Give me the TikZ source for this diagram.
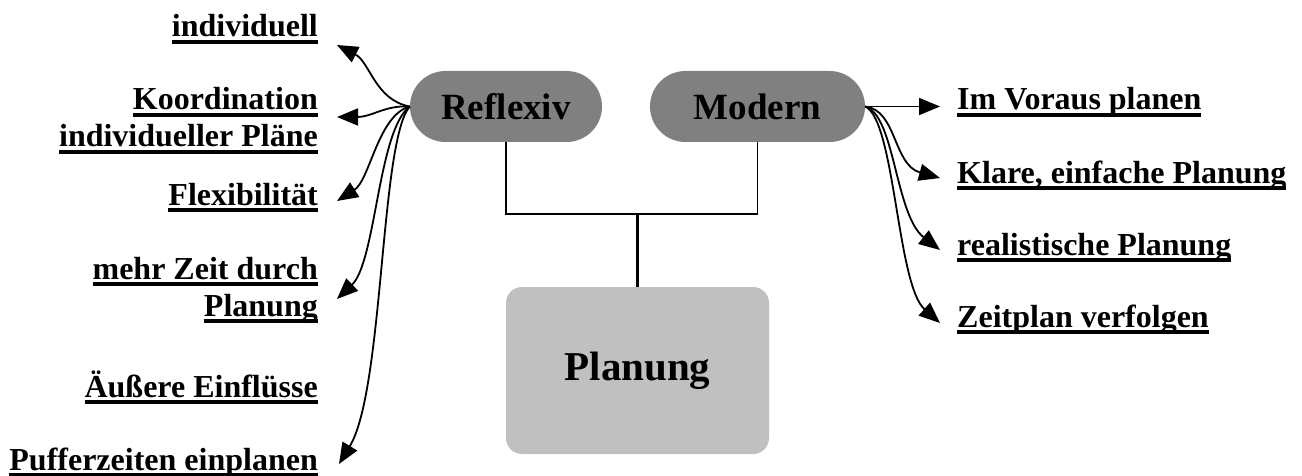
\documentclass[tikz,border=0pt]{standalone}
\usepackage{fontspec}
\setmainfont{Liberation Serif}
\usetikzlibrary{arrows.meta}

% underline drawn as a thick rule just under the baseline
\newsavebox\ulsave
\newcommand\ulbox[1]{\sbox\ulsave{#1}\rlap{\rule[-7pt]{\wd\ulsave}{3.6pt}}\usebox\ulsave}

\definecolor{topicgray}{RGB}{128,128,128}
\definecolor{maingray}{RGB}{192,192,192}

\begin{document}
\begin{tikzpicture}[x=1pt,y=-1pt,
  topic/.style={fill=topicgray, rounded corners=35.5pt, minimum height=71pt,
    inner sep=0pt, font=\fontsize{37}{44}\selectfont\bfseries},
  mainbox/.style={fill=maingray, rounded corners=16pt, minimum width=263pt,
    minimum height=167pt, inner sep=0pt, font=\fontsize{41}{48}\selectfont\bfseries},
  item/.style={inner sep=0pt, font=\fontsize{32}{37}\selectfont\bfseries},
  leftitem/.style={item, anchor=base east, align=right},
  rightitem/.style={item, anchor=base west, align=left},
  tree/.style={line width=1.6pt},
  branch/.style={line width=1.8pt, -{Triangle[length=21pt,width=17pt]}}]

\useasboundingbox (0,0) rectangle (1302,476);

% central boxes
\node[topic, minimum width=192pt] (refl) at (506,106.5) {Reflexiv};
\node[topic, minimum width=215pt] (mod) at (757.5,106.5) {Modern};
\node[mainbox] (plan) at (637.5,370.5) {Planung};

% tree joining the two kinds of planning
\coordinate (jn) at (637.5,214);
\draw[tree] (refl.south) |- (jn) -| (mod.south);
\draw[line width=2.4pt] (jn) -- (plan.north);

% left column (base anchor sits on the last line)
\node[leftitem] (l1) at (318,37) {\ulbox{individuell}};
\node[leftitem] (l2) at (318,147) {\ulbox{Koordination}\\\ulbox{individueller Pläne}};
\node[leftitem] (l3) at (318,205) {\ulbox{Flexibilität}};
\node[leftitem] (l4) at (318,316) {\ulbox{mehr Zeit durch}\\\ulbox{Planung}};
\node[leftitem] (l5) at (318,397) {\ulbox{Äußere Einflüsse}};
\node[leftitem] (l6) at (318,470) {\ulbox{Pufferzeiten einplanen}};

% right column
\node[rightitem] (r1) at (957,110) {\ulbox{Im Voraus planen}};
\node[rightitem] (r2) at (957,183) {\ulbox{Klare, einfache Planung}};
\node[rightitem] (r3) at (957,255) {\ulbox{realistische Planung}};
\node[rightitem] (r4) at (957,327) {\ulbox{Zeitplan verfolgen}};

% arrow ends
\coordinate (a1) at (337,45);
\coordinate (a2) at (337,117);
\coordinate (a3) at (337,201);
\coordinate (a4) at (337,299);
\coordinate (a6) at (339,464);
\coordinate (b1) at (940,106.5);
\coordinate (b2) at (940,178);
\coordinate (b3) at (940,250);
\coordinate (b4) at (940,323);

% branches of the reflexive side
\draw[branch] (refl.west) .. controls (375,100) and (370,62) .. (a1);
\draw[branch] (refl.west) .. controls (385,105) and (372,117) .. (a2);
\draw[branch] (refl.west) .. controls (378,115) and (370,180) .. (a3);
\draw[branch] (refl.west) .. controls (378,130) and (376,262) .. (a4);
\draw[branch] (refl.west) .. controls (380,140) and (384,390) .. (a6);

% branches of the modern side
\draw[branch] (mod.east) -- (b1);
\draw[branch] (mod.east) .. controls (897,110) and (893,165) .. (b2);
\draw[branch] (mod.east) .. controls (895,115) and (895,215) .. (b3);
\draw[branch] (mod.east) .. controls (895,120) and (897,285) .. (b4);

\end{tikzpicture}
\end{document}
